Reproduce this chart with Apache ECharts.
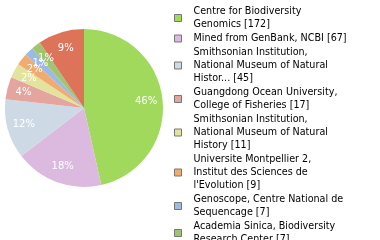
<!DOCTYPE html>
<html><head><meta charset="utf-8">
<script src="https://cdn.jsdelivr.net/npm/echarts@6/dist/echarts.min.js"></script>
<style>html,body{margin:0;padding:0;background:#fff}#c{width:380px;height:240px}</style>
</head><body><div id="c"></div>
<script>
const names = [
  "Centre for Biodiversity\nGenomics [172]",
  "Mined from GenBank, NCBI [67]",
  "Smithsonian Institution,\nNational Museum of Natural\nHistor... [45]",
  "Guangdong Ocean University,\nCollege of Fisheries [17]",
  "Smithsonian Institution,\nNational Museum of Natural\nHistory [11]",
  "Universite Montpellier 2,\nInstitut des Sciences de\nl'Evolution [9]",
  "Genoscope, Centre National de\nSequencage [7]",
  "Academia Sinica, Biodiversity\nResearch Center [7]",
  "Other"
];
const values = [172, 67, 45, 17, 11, 9, 7, 7, 35];
const colors = ["#a0d95b","#dcbadf","#cddae6","#e3a59d","#e2e39c","#f1ab6e","#9dbae1","#9fc56f","#dd7359"];
const legendNames = names.slice(0, 8);

const data = names.map((n, i) => ({name: n, value: values[i], itemStyle: {color: colors[i]}}));
const chart = echarts.init(document.getElementById('c'), null, {renderer: 'canvas'});
chart.setOption({
  animation: false,
  legend: {
    data: legendNames,
    orient: 'vertical',
    left: 174, top: 5,
    height: 1000,
    padding: 0,
    itemWidth: 7, itemHeight: 7,
    itemGap: 1,
    icon: 'rect',
    itemStyle: {borderColor: '#777', borderWidth: 1},
    textStyle: {fontFamily: 'DejaVu Sans', fontSize: 9.6, color: '#000', lineHeight: 13, padding: [0,0,0,7]},
    selectedMode: false
  },
  series: [{
    type: 'pie',
    center: [84, 108], radius: 79,
    startAngle: 90, clockwise: true,
    data: data,
    label: {show: false}, labelLine: {show: false},
    silent: true
  }, {
    type: 'pie',
    center: [84, 108], radius: [40, 79],
    startAngle: 90, clockwise: true,
    avoidLabelOverlap: false,
    minShowLabelAngle: 0,
    labelLayout: {hideOverlap: false},
    data: names.map((n, i) => ({name: n + ' ', value: values[i]})),
    itemStyle: {color: 'rgba(0,0,0,0)'},
    label: {show: true, position: 'inside', color: '#fff', fontFamily: 'DejaVu Sans', fontSize: 10,
      formatter: p => Math.floor(p.percent) + '%'},
    labelLine: {show: false},
    silent: true
  }]
});
</script></body></html>
